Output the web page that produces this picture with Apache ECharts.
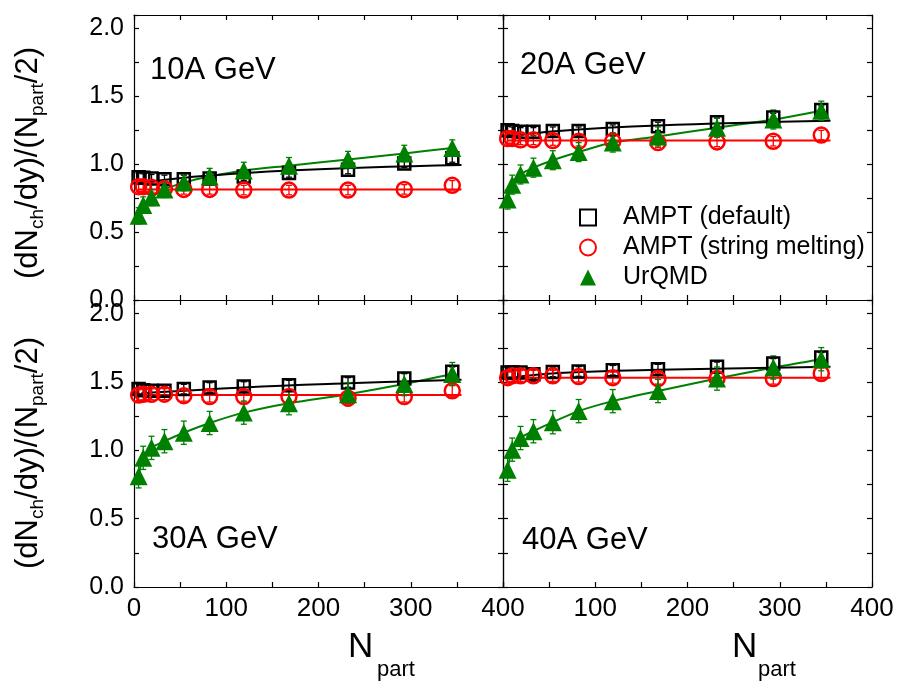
<!DOCTYPE html>
<html>
<head>
<meta charset="utf-8">
<script src="https://cdn.jsdelivr.net/npm/echarts@6/dist/echarts.min.js"></script>
<style>
  html, body { margin: 0; padding: 0; background: #fff; }
  #chart { width: 899px; height: 681px; }
</style>
</head>
<body>
<div id="chart"></div>
<script>
// centrality bins, N_part
const npart = [5, 10, 19, 33, 54, 82, 119, 168, 232, 293, 345];

const panelNames = ['10A GeV', '20A GeV', '30A GeV', '40A GeV'];

// AMPT (default) - open squares
const amptDef10 = [0.905, 0.90, 0.895, 0.89, 0.89, 0.895, 0.91, 0.935, 0.96, 1.005, 1.045];
const amptDef20 = [1.25, 1.245, 1.24, 1.24, 1.245, 1.245, 1.26, 1.28, 1.31, 1.345, 1.40];
const amptDef30 = [1.448, 1.44, 1.436, 1.436, 1.448, 1.46, 1.467, 1.477, 1.497, 1.526, 1.575];
const amptDef40 = [1.569, 1.57, 1.57, 1.557, 1.574, 1.577, 1.586, 1.594, 1.611, 1.636, 1.68];

// AMPT (string melting) - open circles
const amptSm10 = [0.835, 0.835, 0.83, 0.82, 0.815, 0.815, 0.81, 0.81, 0.81, 0.815, 0.845];
const amptSm20 = [1.19, 1.19, 1.18, 1.18, 1.175, 1.17, 1.17, 1.16, 1.165, 1.17, 1.215];
const amptSm30 = [1.404, 1.41, 1.41, 1.411, 1.40, 1.394, 1.394, 1.394, 1.382, 1.394, 1.436];
const amptSm40 = [1.532, 1.545, 1.545, 1.545, 1.545, 1.54, 1.532, 1.525, 1.525, 1.525, 1.562];

// UrQMD - filled triangles
const urqmd10 = [0.62, 0.70, 0.755, 0.815, 0.865, 0.91, 0.955, 0.99, 1.035, 1.08, 1.12];
const urqmd20 = [0.74, 0.85, 0.925, 0.975, 1.03, 1.09, 1.16, 1.205, 1.27, 1.33, 1.395];
const urqmd30 = [0.81, 0.945, 1.018, 1.067, 1.129, 1.20, 1.276, 1.345, 1.411, 1.485, 1.558];
const urqmd40 = [0.858, 1.005, 1.09, 1.14, 1.206, 1.287, 1.36, 1.434, 1.525, 1.606, 1.667];

// error half-widths per panel (10, 20, 30, 40A GeV)
const errDef = [0.03, 0.03, 0.035, 0.035];
const errSm = [0.035, 0.035, 0.04, 0.04];
const errUr = [0.06, 0.07, 0.085, 0.085];

// fit curves [N_part, value]
const fitDef10 = [[8, 0.865], [60, 0.905], [168, 0.955], [355, 0.995]];
const fitDef20 = [[8, 1.205], [60, 1.245], [168, 1.285], [355, 1.32]];
const fitDef30 = [[8, 1.418], [119, 1.46], [232, 1.49], [355, 1.517]];
const fitDef40 = [[8, 1.53], [60, 1.565], [168, 1.589], [355, 1.611]];
const fitSm10 = [[5, 0.815], [355, 0.815]];
const fitSm20 = [[5, 1.175], [355, 1.175]];
const fitSm30 = [[5, 1.404], [355, 1.404]];
const fitSm40 = [[5, 1.532], [355, 1.532]];

const xTicks = [0, 100, 200, 300, 400];
const yTicks = [0, 0.5, 1.0, 1.5, 2.0];

const FONT = '"Liberation Sans", Arial, sans-serif';
const GREEN = '#008000';
const RED = '#ff0000';

const panels = [
  { def: amptDef10, sm: amptSm10, ur: urqmd10, fd: fitDef10, fs: fitSm10 },
  { def: amptDef20, sm: amptSm20, ur: urqmd20, fd: fitDef20, fs: fitSm20 },
  { def: amptDef30, sm: amptSm30, ur: urqmd30, fd: fitDef30, fs: fitSm30 },
  { def: amptDef40, sm: amptSm40, ur: urqmd40, fd: fitDef40, fs: fitSm40 }
];

const grids = [
  { left: 134, top: 15, width: 369, height: 285 },
  { left: 503, top: 15, width: 369, height: 285 },
  { left: 134, top: 300, width: 369, height: 287 },
  { left: 503, top: 300, width: 369, height: 287 }
];

const pair = (ys) => npart.map((n, i) => [n, ys[i]]);
const lineStyle = { color: '#000', width: 1.2 };

function xAxisFor (gi, pos, labels, hideZero) {
  return {
    type: 'value', gridIndex: gi, position: pos, min: 0, max: 400, interval: 50,
    axisLine: { show: true, onZero: false, lineStyle: lineStyle },
    axisTick: { show: true, inside: true, length: 5, lineStyle: lineStyle },
    axisLabel: {
      show: labels, margin: 9, fontSize: 26, color: '#000', fontFamily: FONT,
      formatter: v => (xTicks.includes(v) && !(hideZero && v === 0)) ? String(v) : ''
    },
    splitLine: { show: false }
  };
}

function yAxisFor (gi, pos, labels) {
  return {
    type: 'value', gridIndex: gi, position: pos, min: 0, max: 2.1, interval: 0.25,
    axisLine: { show: true, onZero: false, lineStyle: lineStyle },
    axisTick: { show: true, inside: true, length: 5, lineStyle: lineStyle },
    axisLabel: {
      show: labels, margin: 10, fontSize: 25, color: '#000', fontFamily: FONT,
      padding: [0, 0, 10, 0],
      formatter: v => yTicks.some(t => Math.abs(t - v) < 1e-6) ? v.toFixed(1) : ''
    },
    splitLine: { show: false }
  };
}

const xAxes = [];
const yAxes = [];
grids.forEach((g, gi) => {
  const bottomRow = gi >= 2;
  const leftCol = gi % 2 === 0;
  xAxes.push(xAxisFor(gi, 'bottom', bottomRow, !leftCol));
  xAxes.push(xAxisFor(gi, 'top', false, false));
  yAxes.push(yAxisFor(gi, 'left', leftCol));
  yAxes.push(yAxisFor(gi, 'right', false));
});

// vertical error bar with small caps
function errorBars (ys, err, color, ax) {
  return Object.assign({
    type: 'custom', silent: true, z: 3,
    data: npart.map((n, i) => [n, ys[i] - err, ys[i] + err]),
    renderItem: (params, api) => {
      const lo = api.coord([api.value(0), api.value(1)]);
      const hi = api.coord([api.value(0), api.value(2)]);
      const st = { stroke: color, lineWidth: 1.3 };
      return {
        type: 'group',
        children: [
          { type: 'line', shape: { x1: lo[0], y1: lo[1], x2: hi[0], y2: hi[1] }, style: st },
          { type: 'line', shape: { x1: lo[0] - 3, y1: lo[1], x2: lo[0] + 3, y2: lo[1] }, style: st },
          { type: 'line', shape: { x1: hi[0] - 3, y1: hi[1], x2: hi[0] + 3, y2: hi[1] }, style: st }
        ]
      };
    }
  }, ax);
}

const series = [];
panels.forEach((p, gi) => {
  const ax = { xAxisIndex: gi * 2, yAxisIndex: gi * 2 };
  series.push(Object.assign({
    name: 'urqmd-curve-' + gi, type: 'line', data: pair(p.ur), smooth: 0.3,
    showSymbol: false, silent: true, z: 2, lineStyle: { color: GREEN, width: 2 }
  }, ax));
  series.push(Object.assign({
    name: 'def-fit-' + gi, type: 'line', data: p.fd, smooth: 0.4,
    showSymbol: false, silent: true, z: 2, lineStyle: { color: '#000', width: 2 }
  }, ax));
  series.push(Object.assign({
    name: 'sm-fit-' + gi, type: 'line', data: p.fs,
    showSymbol: false, silent: true, z: 2, lineStyle: { color: RED, width: 2 }
  }, ax));
  series.push(errorBars(p.def, errDef[gi], '#000', ax));
  series.push(errorBars(p.sm, errSm[gi], RED, ax));
  series.push(errorBars(p.ur, errUr[gi], GREEN, ax));
  series.push(Object.assign({
    name: 'AMPT (default)', type: 'scatter', data: pair(p.def), symbol: 'rect', symbolSize: 12, z: 4,
    itemStyle: { color: 'rgba(0,0,0,0)', borderColor: '#000', borderWidth: 2.5, opacity: 1 }
  }, ax));
  series.push(Object.assign({
    name: 'AMPT (string melting)', type: 'scatter', data: pair(p.sm), symbol: 'circle', symbolSize: 15, z: 4,
    itemStyle: { color: 'rgba(0,0,0,0)', borderColor: RED, borderWidth: 2.5, opacity: 1 }
  }, ax));
  series.push(Object.assign({
    name: 'UrQMD', type: 'scatter', data: pair(p.ur), symbol: 'triangle', symbolSize: 18, z: 5,
    itemStyle: { color: GREEN, opacity: 1 }
  }, ax));
});

const labelPos = [[150, 70], [520, 65], [152, 539], [522, 540]];
const graphics = panelNames.map((t, i) => ({
  type: 'text', x: labelPos[i][0], y: labelPos[i][1], z: 10,
  style: { text: t, fontSize: 31, fontFamily: FONT, fill: '#000', align: 'left', verticalAlign: 'middle' }
}));

const yTitle = '{m|(dN}{s|ch}{m|/dy)/(N}{s|part}{m|/2)}';
const yTitleRich = {
  m: { fontSize: 31, lineHeight: 34, verticalAlign: 'top', fontFamily: FONT, fill: '#000' },
  s: { fontSize: 19, lineHeight: 19, verticalAlign: 'bottom', padding: [21, 0, 0, 0], fontFamily: FONT, fill: '#000' }
};
[163, 453].forEach(cy => {
  graphics.push({
    type: 'text', x: 30, y: cy, rotation: Math.PI / 2, z: 10,
    style: { text: yTitle, rich: yTitleRich, align: 'center', verticalAlign: 'middle' }
  });
});
[[348, 377], [732, 758]].forEach(([nx, px]) => {
  graphics.push({
    type: 'text', x: nx, y: 647, z: 10,
    style: { text: 'N', fontSize: 35, fontFamily: FONT, fill: '#000', align: 'left', verticalAlign: 'middle' }
  });
  graphics.push({
    type: 'text', x: px, y: 670, z: 10,
    style: { text: 'part', fontSize: 22, fontFamily: FONT, fill: '#000', align: 'left', verticalAlign: 'middle' }
  });
});

const chart = echarts.init(document.getElementById('chart'));
chart.setOption({
  backgroundColor: '#fff',
  animation: false,
  grid: grids,
  xAxis: xAxes,
  yAxis: yAxes,
  legend: {
    orient: 'vertical', left: 574, top: 200, itemWidth: 16, itemHeight: 16, itemGap: 5,
    textStyle: { fontSize: 25, color: '#000', fontFamily: FONT, padding: [0, 0, 0, 22] },
    data: ['AMPT (default)', 'AMPT (string melting)', 'UrQMD']
  },
  graphic: graphics,
  series: series
});
</script>
</body>
</html>
